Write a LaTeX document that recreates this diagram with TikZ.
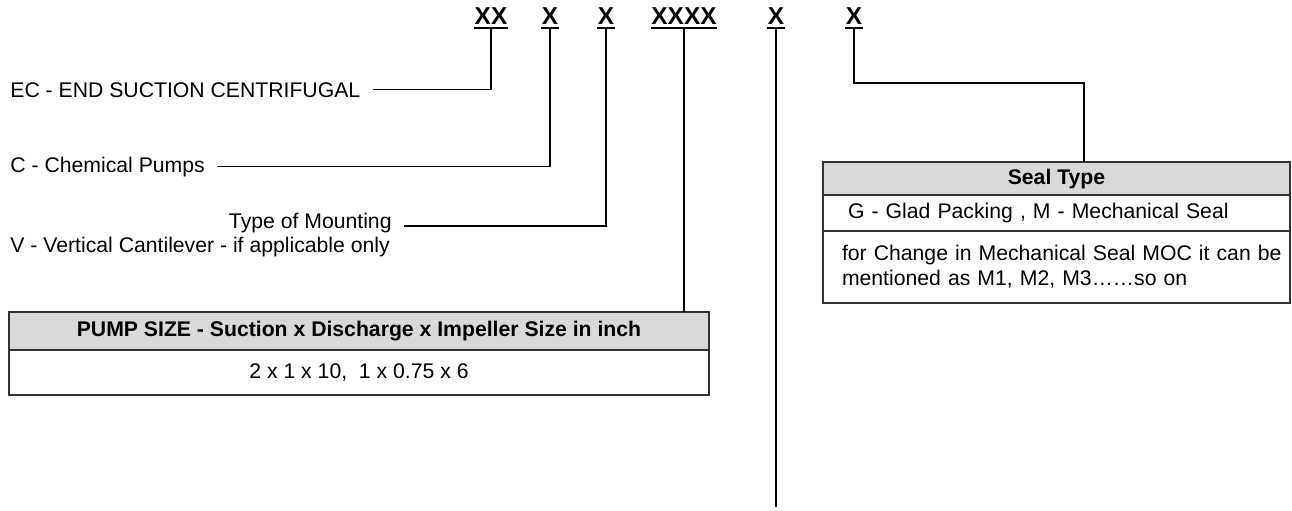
\documentclass[tikz,border=0pt]{standalone}
\usepackage{fontspec}
\setmainfont{Liberation Sans}
\usetikzlibrary{positioning}

\begin{document}
\begin{tikzpicture}[x=0.5pt,y=-0.5pt,
  codeletter/.style={font=\fontsize{12.2pt}{14pt}\selectfont\bfseries, inner xsep=0pt, inner ysep=1.5pt, text depth=0pt, anchor=south},
  uline/.style={line width=1pt},
  lbl/.style={font=\fontsize{10.6pt}{12.5pt}\selectfont, inner xsep=6pt, inner ysep=0pt},
  wire/.style={line width=0.65pt},
  headrow/.style={draw=black!80, line width=0.9pt, fill=black!15, outer sep=0pt, font=\fontsize{10.6pt}{12.5pt}\selectfont\bfseries},
  bodyrow/.style={draw=black!80, line width=0.9pt, fill=white, outer sep=0pt, font=\fontsize{10.6pt}{12.5pt}\selectfont}]

\useasboundingbox (0,0) rectangle (1292,510);

% code letters
\node[codeletter] (xx) at (491,28) {XX};
\node[codeletter] (x2) at (550,28) {X};
\node[codeletter] (x3) at (606,28) {X};
\node[codeletter] (xxxx) at (684,28) {XXXX};
\node[codeletter] (x5) at (776,28) {X};
\node[codeletter] (x6) at (854,28) {X};
\foreach \n in {xx,x2,x3,xxxx,x5,x6}
  \draw[uline] (\n.south west) -- (\n.south east);

% labels
\node[lbl, anchor=base west] (ec) at (-2,97) {EC - END SUCTION CENTRIFUGAL};
\node[lbl, anchor=base west] (chem) at (-2,172) {C - Chemical Pumps};
\node[lbl, anchor=base east] (mount) at (404,228) {Type of Mounting};
\node[lbl, anchor=base west] (vert) at (-2,252) {V - Vertical Cantilever - if applicable only};

% pump size table
\node[headrow, minimum width=350pt, minimum height=19pt, anchor=north west] (pumphead) at (9,312) {PUMP SIZE - Suction x Discharge x Impeller Size in inch};
\node[bodyrow, minimum width=350pt, minimum height=22.5pt, below=0pt of pumphead] (pumpbody) {2 x 1 x 10,\ \ 1 x 0.75 x 6};

% seal type table
\node[headrow, minimum width=233.5pt, minimum height=16pt, anchor=north west] (sealhead) at (823,162) {Seal Type};
\node[bodyrow, minimum height=18pt, text width=214.5pt, inner xsep=9.5pt, align=left, below=0pt of sealhead] (sealrow) {\hspace*{3pt}G - Glad Packing , M - Mechanical Seal};
\node[bodyrow, minimum height=36pt, text width=214.5pt, inner xsep=9.5pt, align=left, below=0pt of sealrow] (sealnote) {\mbox{for Change in Mechanical Seal MOC it can be}\\mentioned as M1, M2, M3……so on};

% connectors
\coordinate (sealturn) at (1084,83);
\coordinate (x5end) at (776,507);
\draw[wire] (ec.east) -| (xx.south);
\draw[wire] (chem.east) -| (x2.south);
\draw[wire] ([yshift=1pt]mount.base east) -| (x3.south);
\draw[wire] (xxxx.south) -- (xxxx.south |- pumphead.north);
\draw[wire] (x5.south) -- (x5end);
\draw[wire] (x6.south) |- (sealturn) -- (sealturn |- sealhead.north);
\end{tikzpicture}
\end{document}
